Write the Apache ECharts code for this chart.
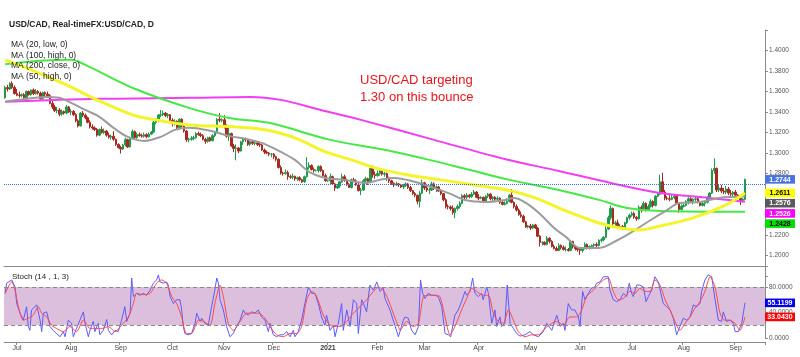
<!DOCTYPE html>
<html><head><meta charset="utf-8">
<script src="https://cdn.jsdelivr.net/npm/echarts/dist/echarts.min.js"></script>
<style>html,body{margin:0;padding:0;background:#fff}#c{width:800px;height:357px}</style>
</head><body><div id="c"></div>
<script>
// ---------- DATA ----------
const startDate = '2020-06-24';   // first daily candle (weekdays only)
const padDays = 8;                // empty future slots at right edge
// prices in pips above 1.0000 (3612 = 1.3612), one entry per trading day
const opens = [
3540,3640,3625,3680,3640,
3580,3565,3560,3570,3540,3600,3570,3615,3580,3600,3585,3530,3590,3575,3560,3485,3450,3415,3420,3380,3405,3390,3450,
3400,3405,3375,3315,3265,3390,3370,3345,3300,3255,3245,3230,3175,3230,3200,3215,3175,3155,3165,3135,3085,
3055,3040,3080,3130,3060,3140,3210,3150,3180,3170,3165,3180,3160,3185,3205,3300,3325,3370,3375,3390,3365,3375,
3320,3290,3310,3250,3330,3265,3215,3130,3135,3145,3150,3190,3180,3170,3135,3115,3150,3120,3170,3200,3330,3320,
3325,3260,3165,3190,3070,3045,3050,3020,3110,3140,3130,3085,3110,3095,3100,3085,3080,3030,3010,3000,2990,
2990,2965,2940,2860,2805,2800,2810,2770,2765,2775,2750,2760,2740,2720,2770,2860,2880,2840,2830,2830,2870,2830,2780,
2730,2730,2770,2700,2660,2680,2720,2770,2735,2695,2665,2740,2730,2690,2635,2640,2730,2750,2720,2850,2790,
2780,2800,2830,2795,2800,2755,2730,2705,2690,2700,2690,2670,2685,2700,2665,2635,2605,2590,2530,2610,
2710,2660,2640,2640,2700,2655,2670,2630,2605,2545,2480,2475,2460,2420,2460,2480,2510,2585,2570,2590,2575,2600,2620,
2570,2560,2570,2530,2580,2600,2555,2570,2550,2560,2520,2500,2510,2530,2590,2520,2480,2445,2400,2385,2330,2280,
2290,2270,2300,2270,2190,2130,2130,2110,2170,2140,2090,2070,2050,2100,2080,2060,2060,2050,2140,2090,2070,
2060,2050,2070,2110,2075,2090,2100,2110,2100,2150,2155,2180,2260,2370,2460,2310,2320,2280,2285,2265,2320,2370,
2395,2410,2375,2360,2470,2460,2510,2450,2480,2530,2490,2580,2600,2720,2620,2560,2555,2550,2565,2580,2510,2450,
2480,2490,2530,2555,2530,2550,2555,2520,2490,2510,2520,2560,2610,2830,2850,2640,2660,2630,2620,2650,2610,2600,
2620,2590,2560,2540,2550];
const highs = [
3655,3665,3690,3700,3660,
3625,3600,3580,3585,3610,3610,3620,3630,3625,3615,3600,3600,3600,3600,3575,3525,3470,3450,3440,3425,3415,3470,3460,
3430,3420,3390,3330,3400,3410,3385,3355,3320,3280,3260,3245,3240,3260,3240,3225,3200,3180,3215,3140,3095,
3070,3090,3150,3140,3160,3230,3220,3200,3200,3190,3200,3195,3200,3215,3315,3340,3380,3420,3415,3400,3390,3380,
3340,3330,3320,3340,3340,3280,3225,3150,3165,3170,3205,3210,3200,3185,3150,3160,3160,3185,3215,3340,3390,3340,
3370,3280,3245,3200,3090,3085,3060,3120,3150,3150,3135,3120,3120,3125,3110,3110,3090,3045,3025,3010,3000,
3000,2975,2950,2880,2820,2840,2830,2790,2800,2780,2770,2775,2750,2780,2960,2910,2890,2860,2840,2880,2880,2840,2800,
2740,2800,2780,2710,2700,2725,2800,2790,2750,2710,2750,2760,2745,2710,2660,2745,2770,2760,2860,2880,2820,
2830,2840,2840,2815,2810,2770,2740,2715,2720,2710,2700,2700,2715,2710,2680,2640,2620,2595,2630,2740,
2720,2680,2660,2720,2715,2685,2680,2650,2610,2560,2500,2490,2490,2470,2500,2530,2600,2600,2610,2600,2620,2640,2630,
2600,2580,2575,2590,2610,2610,2580,2580,2580,2570,2540,2530,2560,2600,2650,2530,2500,2460,2430,2400,2340,2300,
2310,2310,2310,2280,2200,2140,2140,2190,2180,2150,2110,2090,2120,2110,2100,2090,2075,2150,2145,2100,2080,
2080,2085,2130,2120,2100,2110,2120,2130,2160,2170,2190,2300,2390,2490,2470,2340,2350,2310,2300,2330,2380,2410,
2430,2430,2385,2490,2490,2530,2520,2500,2550,2540,2590,2620,2790,2808,2640,2580,2590,2590,2600,2590,2520,2500,
2510,2540,2570,2570,2560,2580,2570,2535,2530,2530,2580,2620,2850,2949,2860,2690,2690,2660,2680,2670,2640,2630,
2640,2600,2580,2560,2750];
const lows = [
3530,3600,3615,3625,3570,
3555,3540,3545,3525,3535,3560,3560,3565,3570,3570,3520,3520,3555,3550,3475,3430,3400,3390,3360,3365,3375,3380,3390,
3370,3360,3300,3250,3260,3350,3330,3290,3240,3230,3215,3160,3165,3190,3185,3160,3140,3130,3120,3070,3045,
2995,3030,3065,3050,3055,3130,3140,3140,3160,3150,3150,3145,3150,3175,3195,3280,3300,3350,3360,3350,3340,3300,
3260,3270,3230,3230,3250,3200,3110,3105,3120,3125,3140,3170,3155,3125,3090,3100,3110,3115,3155,3190,3300,3300,
3240,3150,3120,3060,3010,2930,3000,3015,3080,3110,3070,3070,3080,3075,3070,3060,3020,2990,2990,2970,2960,
2940,2920,2850,2790,2780,2790,2740,2750,2745,2730,2730,2725,2710,2710,2760,2840,2830,2810,2820,2810,2815,2760,2720,
2720,2700,2690,2630,2650,2660,2710,2720,2680,2660,2655,2720,2680,2625,2590,2630,2700,2690,2710,2760,2750,
2770,2780,2780,2770,2730,2710,2690,2670,2680,2670,2660,2650,2670,2650,2620,2590,2570,2500,2470,2600,
2640,2620,2600,2630,2640,2620,2620,2590,2530,2460,2450,2440,2400,2365,2440,2460,2500,2550,2550,2560,2565,2590,2560,
2540,2550,2515,2520,2560,2540,2530,2530,2530,2505,2490,2490,2500,2520,2510,2460,2430,2390,2370,2320,2270,2265,
2250,2260,2260,2180,2090,2100,2100,2100,2120,2080,2060,2045,2045,2060,2050,2040,2040,2045,2070,2050,2040,
2007,2030,2060,2060,2060,2070,2080,2080,2090,2130,2140,2170,2250,2350,2300,2290,2270,2260,2250,2255,2310,2350,
2380,2360,2340,2350,2420,2440,2430,2440,2470,2470,2480,2570,2590,2600,2540,2540,2530,2540,2550,2500,2420,2440,
2470,2480,2500,2520,2500,2530,2510,2480,2480,2480,2510,2550,2600,2800,2620,2620,2610,2600,2600,2590,2580,2580,
2580,2550,2495,2520,2540];
const closes = [
3640,3625,3680,3640,3580,
3565,3560,3570,3540,3600,3570,3615,3580,3600,3585,3530,3590,3575,3560,3485,3450,3415,3420,3380,3405,3390,3450,3400,
3405,3375,3315,3265,3390,3370,3345,3300,3255,3245,3230,3175,3230,3200,3215,3175,3155,3165,3135,3085,3055,
3040,3080,3130,3060,3140,3210,3150,3180,3170,3165,3180,3160,3185,3205,3300,3325,3370,3375,3390,3365,3375,3320,
3290,3310,3250,3330,3265,3215,3130,3135,3145,3150,3190,3180,3170,3135,3115,3150,3120,3170,3200,3330,3320,3325,
3260,3165,3190,3070,3045,3050,3020,3110,3140,3130,3085,3110,3095,3100,3085,3080,3030,3010,3000,2990,2990,
2965,2940,2860,2805,2800,2810,2770,2765,2775,2750,2760,2740,2720,2770,2860,2880,2840,2830,2830,2870,2830,2780,2730,
2730,2770,2700,2660,2680,2720,2770,2735,2695,2665,2740,2730,2690,2635,2640,2730,2750,2720,2850,2790,2780,
2800,2830,2795,2800,2755,2730,2705,2690,2700,2690,2670,2685,2700,2665,2635,2605,2590,2530,2610,2710,
2660,2640,2640,2700,2655,2670,2630,2605,2545,2480,2475,2460,2420,2460,2480,2510,2585,2570,2590,2575,2600,2620,2570,
2560,2570,2530,2580,2600,2555,2570,2550,2560,2520,2500,2510,2530,2590,2520,2480,2445,2400,2385,2330,2280,2290,
2270,2300,2270,2190,2130,2130,2110,2170,2140,2090,2070,2050,2100,2080,2060,2060,2050,2140,2090,2070,2060,
2050,2070,2110,2075,2090,2100,2110,2100,2150,2155,2180,2260,2370,2460,2310,2320,2280,2285,2265,2320,2370,2395,
2410,2375,2360,2470,2460,2510,2450,2480,2530,2490,2580,2600,2720,2620,2560,2555,2550,2565,2580,2510,2450,2480,
2490,2530,2555,2530,2550,2555,2520,2490,2510,2520,2560,2610,2830,2850,2640,2660,2630,2620,2650,2610,2600,2620,
2590,2560,2540,2550,2744];
// moving averages: [day index, price]
const ma20Low = [[0,1.3500],[6,1.3519],[17,1.3548],[23,1.3539],[28,1.3490],[34,1.3421],[40,1.3354],[46,1.3246],[52,1.3158],[59,1.3119],[66,1.3158],[72,1.3226],[78,1.3246],[87,1.3217],[95,1.3168],[104,1.3129],[110,1.3090],[117,1.3012],[123,1.2934],[129,1.2817],[136,1.2758],[144,1.2739],[153,1.2709],[159,1.2739],[165,1.2758],[174,1.2719],[182,1.2661],[189,1.2602],[195,1.2543],[204,1.2524],[212,1.2543],[216,1.2563],[221,1.2514],[227,1.2407],[233,1.2270],[238,1.2183],[244,1.2075],[252,1.2075],[260,1.2153],[266,1.2231],[274,1.2348],[281,1.2446],[286,1.2514],[295,1.2524],[303,1.2563],[314,1.2576]];
const ma100High = [[0,1.3866],[15,1.3900],[28,1.3910],[34,1.3860],[55,1.3627],[78,1.3441],[95,1.3343],[112,1.3295],[138,1.3129],[161,1.3032],[180,1.2934],[197,1.2837],[214,1.2739],[235,1.2641],[252,1.2544],[264,1.2465],[278,1.2436],[314,1.2428]];
const ma200Close = [[0,1.3500],[40,1.3529],[78,1.3539],[104,1.3548],[117,1.3519],[134,1.3421],[151,1.3324],[182,1.3129],[212,1.2943],[235,1.2826],[257,1.2709],[278,1.2612],[299,1.2563],[314,1.2526]];
const ma50High = [[0,1.3909],[11,1.3812],[26,1.3665],[39,1.3519],[54,1.3373],[64,1.3324],[78,1.3275],[97,1.3256],[111,1.3226],[123,1.3148],[136,1.3012],[147,1.2934],[157,1.2856],[171,1.2787],[185,1.2739],[199,1.2690],[213,1.2641],[225,1.2563],[238,1.2436],[252,1.2319],[261,1.2270],[269,1.2251],[278,1.2290],[292,1.2368],[306,1.2495],[314,1.2611]];
// stochastic: [day index, value]
const stochK = [[0,70],[0.6,86],[2.8,91],[4.2,80],[4.9,54],[6.3,39],[7.7,28],[9.1,49],[9.8,18],[10.5,12],[11.2,44],[11.9,44],[13.4,52],[14.1,54],[14.8,28],[15.5,10],[16.2,39],[17.6,41],[18.3,31],[19,18],[20.4,12],[21.8,7],[23.3,2],[24.7,10],[25.4,2],[26.8,28],[28.2,23],[28.9,2],[30.3,15],[31.7,28],[33.2,41],[33.9,23],[35.3,2],[36,12],[37.4,26],[38.1,10],[39.5,23],[40.2,5],[41.6,12],[43.1,29],[43.8,12],[45.2,5],[46.6,12],[48,10],[49.4,28],[50.8,49],[51.6,26],[53,39],[53.7,94],[54.4,65],[55.8,70],[57.2,67],[58.6,70],[60,67],[61.5,75],[62.9,86],[64.3,91],[65,99],[65.7,88],[67.1,86],[68.5,88],[69.2,83],[70,65],[71.4,54],[72.8,60],[74.2,60],[74.9,44],[75.6,18],[76.3,7],[77.7,5],[79.1,7],[80.6,23],[81.3,39],[82.7,26],[83.4,31],[84.8,23],[86.2,20],[87.6,49],[89,75],[89.8,94],[90.5,86],[91.2,60],[92.6,44],[94,18],[95.4,2],[96.8,7],[98.2,18],[99.7,28],[101.1,44],[101.8,39],[103.2,36],[104.6,41],[106,39],[107.4,44],[108.8,33],[110.3,28],[111.7,10],[112.4,23],[113.8,5],[115.2,2],[116.6,5],[118,5],[119.5,10],[120.9,2],[122.3,12],[123,2],[124.4,10],[125.8,28],[127.2,54],[128.7,80],[130.1,70],[131.5,70],[132.9,54],[134.3,33],[135.7,20],[136.4,36],[137.9,12],[139.3,20],[140,2],[141.4,23],[142.8,54],[143.5,12],[145,44],[146.4,18],[147.8,60],[149.2,54],[149.9,7],[151.3,60],[152,55],[153.4,41],[154.8,83],[156.3,75],[157.7,88],[159.1,73],[160.5,78],[161.2,62],[163.3,44],[165.4,20],[166.9,2],[167.6,5],[169,28],[169.7,33],[171.1,31],[172.5,12],[174,5],[174.6,7],[175.4,18],[176.3,91],[177.2,70],[178.2,62],[179.6,70],[181,67],[182.4,67],[183.8,65],[185.3,49],[186.7,7],[188.1,5],[189.1,2],[190.2,23],[190.9,36],[192.3,44],[193.7,57],[195.2,73],[195.9,67],[197.3,73],[198.4,94],[199.4,70],[200.8,65],[202.2,70],[202.9,60],[204.4,80],[205.1,70],[206.5,23],[207.9,44],[208.6,18],[210,33],[210.7,18],[212.1,23],[213.1,83],[214.3,23],[215.7,15],[217.1,7],[218.5,3],[220.6,5],[222.7,10],[224.2,5],[226.3,2],[228.4,10],[229.8,23],[230.5,26],[232,12],[234.1,36],[235.5,18],[236.9,23],[237.6,12],[239,54],[240.4,44],[241.8,44],[243.3,33],[244,18],[245.1,73],[246.1,60],[247.5,70],[248.9,78],[250.3,80],[251,86],[252.5,88],[253.9,96],[256,96],[256.7,75],[258.1,60],[259.5,57],[261,60],[262.4,70],[263.8,65],[264.9,86],[265.9,70],[266.6,65],[268,83],[269.4,83],[270.9,80],[272,57],[273,65],[274.4,75],[275.8,96],[277.2,88],[277.9,86],[279.3,54],[280.8,49],[282.2,44],[283.6,31],[285,5],[286.4,18],[287.8,31],[289.2,28],[290.7,33],[292.1,52],[293.5,49],[294.9,54],[295.6,73],[297,91],[298.4,99],[299.9,96],[301.3,60],[302.7,28],[304.1,26],[304.8,41],[306.2,26],[307.6,28],[309.1,23],[309.8,10],[311.2,10],[312.6,23],[314,55.1199]];
const stochD = [[0,70],[2.8,88],[4.2,75],[5.6,49],[7.7,28],[9.8,31],[11.9,36],[14.1,49],[15.5,39],[17.6,33],[19.7,20],[21.8,15],[24.7,10],[27.5,18],[30.3,10],[33.2,28],[36,15],[38.1,15],[41,15],[43.8,18],[46.6,10],[49.4,20],[52.3,33],[54.4,54],[55.8,70],[58.6,68],[61.5,70],[64.3,86],[66.4,91],[68.5,86],[70.7,65],[72.8,54],[74.9,33],[77,7],[79.1,7],[82,28],[84.1,26],[86.9,20],[89,54],[91.2,83],[92.6,65],[94.7,23],[96.8,12],[99.7,26],[102.5,39],[105.3,39],[107.4,39],[110.3,31],[112.4,18],[115.2,5],[118,2],[120.9,7],[123.7,7],[125.8,18],[128,60],[130.1,73],[132.2,65],[135,36],[137.2,23],[139.3,18],[142.1,18],[145,26],[147.8,39],[150.6,49],[153.4,60],[156.3,73],[158.4,80],[160.5,75],[162.6,60],[164.7,39],[166.9,18],[167.6,12],[170.4,26],[173.2,18],[175.4,23],[177.5,65],[179.6,67],[182.4,67],[184.5,65],[186.7,33],[188.8,5],[190.9,18],[193.7,44],[195.9,62],[198,78],[200.1,73],[202.9,67],[205.1,67],[207.2,39],[209.3,26],[211.4,23],[213.6,44],[215.7,28],[217.8,10],[220.6,2],[223.5,5],[226.3,5],[229.1,15],[232,23],[234.1,26],[236.9,20],[239.7,33],[242.6,33],[244.7,44],[246.8,65],[249.6,75],[251.7,83],[253.9,91],[256,94],[258.1,73],[260.2,60],[262.4,62],[265.2,73],[267.3,70],[269.4,78],[271.6,73],[273.7,73],[275.8,91],[277.9,83],[280.1,60],[282.2,44],[284.3,26],[286.4,12],[288.5,23],[290.7,33],[292.8,47],[294.9,57],[297,73],[299.2,96],[301.3,80],[303.4,39],[305.5,28],[307.6,28],[309.8,23],[311.9,12],[314,33.0430]];
const monthNames = ['Jan','Feb','Mar','Apr','May','Jun','Jul','Aug','Sep','Oct','Nov','Dec'];
const priceTicks = {min:1.18, max:1.42, step:0.02};
const stochTicks = {min:0, max:112.9, step:40};
const bandLevels = [20, 80];

// ---------- BUILD ----------
const FONT = '"Liberation Sans", Arial, sans-serif';
const N = closes.length + padDays;
const dates = [];
{
  const d = new Date(startDate + 'T00:00:00Z');
  while (dates.length < N) {
    const wd = d.getUTCDay();
    if (wd !== 0 && wd !== 6) dates.push(d.toISOString().slice(0, 10));
    d.setUTCDate(d.getUTCDate() + 1);
  }
}
const px = p => +(1 + p / 10000).toFixed(4);
const candles = closes.map((c, i) => [px(opens[i]), px(c), px(lows[i]), px(highs[i])]);
const lastPrice = px(closes[closes.length - 1]);
const isMonthStart = (i) => i > 0 && i < N && dates[i].slice(5, 7) !== dates[i - 1].slice(5, 7);

const UP = '#1f9a4a', DOWN = '#a62a22';
const GRID0 = {left: 4, width: 761, top: 30, height: 246.2};
const GRID1 = {left: 4, width: 761, top: 266, height: 72};

const maLine = (name, data, color, width) => ({
  name, type: 'line', xAxisIndex: 2, yAxisIndex: 0, data, showSymbol: false, smooth: 0.35,
  lineStyle: {color, width}, silent: true, z: 3
});

const chart = echarts.init(document.getElementById('c'), null, {renderer: 'canvas'});
const option = {
  animation: false,
  backgroundColor: '#ffffff',
  grid: [GRID0, GRID1],
  xAxis: [
    {type: 'category', gridIndex: 0, data: dates, boundaryGap: true, show: false},
    {type: 'category', gridIndex: 1, data: dates, boundaryGap: true, position: 'bottom', offset: 4,
      axisLine: {onZero: false, lineStyle: {color: '#8a8a8a', width: 1}},
      axisTick: {show: true, length: 3, interval: (i) => isMonthStart(i), lineStyle: {color: '#8a8a8a'}},
      axisLabel: {interval: (i) => isMonthStart(i), margin: 3, fontSize: 7, fontFamily: FONT, color: '#444',
        formatter: (v) => { const m = +v.slice(5, 7); return m === 1 ? '{b|' + v.slice(0, 4) + '}' : monthNames[m - 1]; },
        rich: {b: {fontWeight: 'bold', fontSize: 7, fontFamily: FONT, color: '#333'}}},
      splitLine: {show: false}},
    {type: 'value', gridIndex: 0, min: -0.5, max: N - 0.5, show: false, axisLine: {onZero: false}},
    {type: 'value', gridIndex: 1, min: -0.5, max: N - 0.5, position: 'top',
      axisLine: {show: true, onZero: false, lineStyle: {color: '#8a8a8a', width: 1}},
      axisTick: {show: false}, axisLabel: {show: false}, splitLine: {show: false}}
  ],
  yAxis: [
    {type: 'value', gridIndex: 0, position: 'right', min: priceTicks.min, max: priceTicks.max, interval: priceTicks.step,
      axisLine: {show: true, onZero: false, lineStyle: {color: '#8a8a8a', width: 1}},
      axisTick: {show: true, inside: false, length: 3, lineStyle: {color: '#8a8a8a'}},
      axisLabel: {margin: 4, fontSize: 6.5, fontFamily: FONT, color: '#555',
        formatter: (v) => (v < priceTicks.min + 0.001 || v > priceTicks.max - 0.001) ? '' : v.toFixed(4)},
      splitLine: {show: false}},
    {type: 'value', gridIndex: 1, position: 'right', min: stochTicks.min, max: stochTicks.max, interval: stochTicks.step,
      axisLine: {show: true, onZero: false, lineStyle: {color: '#8a8a8a', width: 1}},
      axisTick: {show: true, inside: false, length: 3, lineStyle: {color: '#8a8a8a'}},
      axisLabel: {margin: 4, fontSize: 6.5, fontFamily: FONT, color: '#555',
        formatter: (v) => (Math.abs(v % stochTicks.step) > 0.01 || v > 100) ? '' : v.toFixed(4)},
      splitLine: {show: false}}
  ],
  series: [
    {type: 'candlestick', xAxisIndex: 0, yAxisIndex: 0, data: candles, barWidth: 2,
      itemStyle: {color: UP, color0: DOWN, borderColor: UP, borderColor0: DOWN, borderWidth: 1},
      markLine: {silent: true, symbol: ['none', 'none'], label: {show: false},
        lineStyle: {color: '#3f6fe0', type: 'dotted', width: 1}, data: [{yAxis: lastPrice}]},
      z: 2},
    maLine('MA (200, close, 0)', ma200Close, '#f23ef2', 2),
    maLine('MA (100, high, 0)', ma100High, '#45e845', 2),
    maLine('MA (20, low, 0)', ma20Low, '#9c9c9c', 2),
    maLine('MA (50, high, 0)', ma50High, '#f4f42a', 3),
    {type: 'line', xAxisIndex: 3, yAxisIndex: 1, data: stochK, showSymbol: false, silent: true,
      lineStyle: {color: '#5b5bff', width: 1}, z: 3,
      markArea: {silent: true, itemStyle: {color: '#dcbfdc'}, data: [[{yAxis: bandLevels[0]}, {yAxis: bandLevels[1]}]]},
      markLine: {silent: true, symbol: ['none', 'none'], label: {show: false},
        lineStyle: {color: '#888', type: [4, 3], width: 1}, data: [{yAxis: bandLevels[0]}, {yAxis: bandLevels[1]}]}},
    {type: 'line', xAxisIndex: 3, yAxisIndex: 1, data: stochD, showSymbol: false, silent: true, smooth: 0.25,
      lineStyle: {color: '#ff4848', width: 1}, z: 4}
  ]
};
chart.setOption(option);

// ---------- TEXT + VALUE TAGS ----------
const texts = [
  {x: 9, y: 25, t: 'USD/CAD, Real-timeFX:USD/CAD, D', f: 'bold 8.5px ' + FONT, c: '#222'},
  {x: 11, y: 44.5, t: 'MA (20, low, 0)', f: '8.5px ' + FONT, c: '#222'},
  {x: 11, y: 55.3, t: 'MA (100, high, 0)', f: '8.5px ' + FONT, c: '#222'},
  {x: 11, y: 66, t: 'MA (200, close, 0)', f: '8.5px ' + FONT, c: '#222'},
  {x: 11, y: 76.8, t: 'MA (50, high, 0)', f: '8.5px ' + FONT, c: '#222'},
  {x: 360, y: 80, t: 'USD/CAD targeting', f: '13px ' + FONT, c: '#e8141c'},
  {x: 360, y: 97, t: '1.30 on this bounce', f: '13px ' + FONT, c: '#e8141c'},
  {x: 12, y: 277, t: 'Stoch (14 , 1, 3)', f: '8px ' + FONT, c: '#222'}
];
const graphics = texts.map(o => ({type: 'text', x: o.x, y: o.y, silent: true, z: 50,
  style: {text: o.t, font: o.f, fill: o.c, align: 'left', verticalAlign: 'middle'}}));

const tagX = GRID0.left + GRID0.width;
function pushTag(yc, label, bg, fg) {
  graphics.push({type: 'rect', silent: true, z: 60, shape: {x: tagX, y: yc - 4.3, width: 30, height: 8.6}, style: {fill: bg}});
  graphics.push({type: 'text', silent: true, z: 61, x: tagX + 15, y: yc + 0.3,
    style: {text: label, font: 'bold 7px ' + FONT, fill: fg, align: 'center', verticalAlign: 'middle'}});
}
const last = a => a[a.length - 1][1];
const priceTags = [
  {v: lastPrice, bg: '#4a74db', fg: '#fff'},
  {v: last(ma50High), bg: '#ffff00', fg: '#000'},
  {v: last(ma20Low), bg: '#5a5a5a', fg: '#fff'},
  {v: last(ma200Close), bg: '#ff00ff', fg: '#fff'},
  {v: last(ma100High), bg: '#00dd00', fg: '#000'}
];
let prevY = -1e9;
priceTags.forEach(t => {
  let y = chart.convertToPixel({yAxisIndex: 0}, t.v);
  y = Math.max(y, prevY + 10.2);
  prevY = y;
  pushTag(y, t.v.toFixed(4), t.bg, t.fg);
});
[{v: last(stochK), bg: '#0000ee', fg: '#fff'}, {v: last(stochD), bg: '#ff0000', fg: '#fff'}].forEach(t => {
  pushTag(chart.convertToPixel({yAxisIndex: 1}, t.v), t.v.toFixed(4), t.bg, t.fg);
});
chart.setOption({graphic: graphics});
</script>
</body></html>
